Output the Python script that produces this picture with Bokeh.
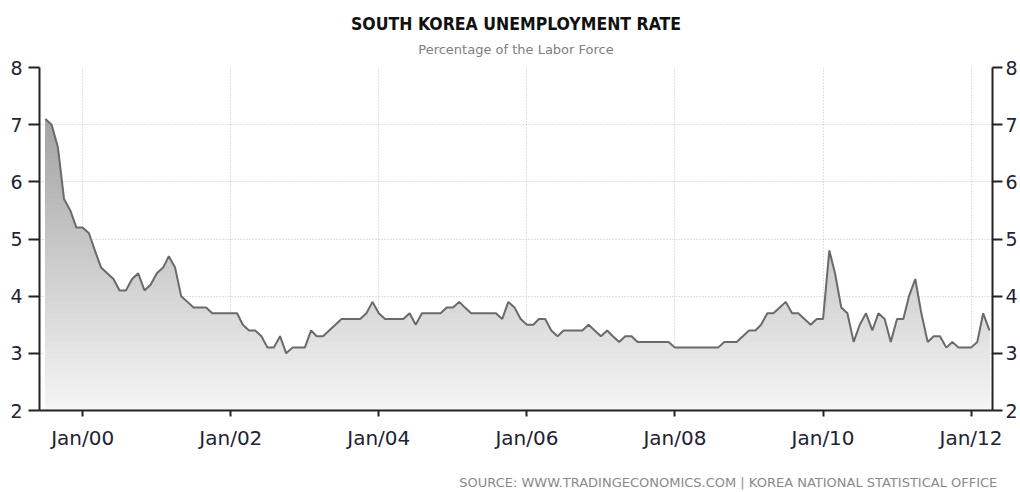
import numpy as np
import pandas as pd
from datetime import datetime
from bokeh.plotting import figure
from bokeh.models import (Range1d, LinearAxis, FixedTicker, DatetimeTickFormatter, Title,
                          CustomJSTickFormatter)
from bokeh.embed import file_html
from bokeh.resources import INLINE
import json

TITLE = "SOUTH KOREA UNEMPLOYMENT RATE"
SUBTITLE = "Percentage of the Labor Force"
SOURCE = "SOURCE: WWW.TRADINGECONOMICS.COM | KOREA NATIONAL STATISTICAL OFFICE"

start_month = "1999-07"
rate_1999 = [7.1, 7.0, 6.6, 5.7, 5.5, 5.2]
rate_2000 = [5.2, 5.1, 4.8, 4.5, 4.4, 4.3, 4.1, 4.1, 4.3, 4.4, 4.1, 4.2]
rate_2001 = [4.4, 4.5, 4.7, 4.5, 4.0, 3.9, 3.8, 3.8, 3.8, 3.7, 3.7, 3.7]
rate_2002 = [3.7, 3.7, 3.5, 3.4, 3.4, 3.3, 3.1, 3.1, 3.3, 3.0, 3.1, 3.1]
rate_2003 = [3.1, 3.4, 3.3, 3.3, 3.4, 3.5, 3.6, 3.6, 3.6, 3.6, 3.7, 3.9]
rate_2004 = [3.7, 3.6, 3.6, 3.6, 3.6, 3.7, 3.5, 3.7, 3.7, 3.7, 3.7, 3.8]
rate_2005 = [3.8, 3.9, 3.8, 3.7, 3.7, 3.7, 3.7, 3.7, 3.6, 3.9, 3.8, 3.6]
rate_2006 = [3.5, 3.5, 3.6, 3.6, 3.4, 3.3, 3.4, 3.4, 3.4, 3.4, 3.5, 3.4]
rate_2007 = [3.3, 3.4, 3.3, 3.2, 3.3, 3.3, 3.2, 3.2, 3.2, 3.2, 3.2, 3.2]
rate_2008 = [3.1, 3.1, 3.1, 3.1, 3.1, 3.1, 3.1, 3.1, 3.2, 3.2, 3.2, 3.3]
rate_2009 = [3.4, 3.4, 3.5, 3.7, 3.7, 3.8, 3.9, 3.7, 3.7, 3.6, 3.5, 3.6]
rate_2010 = [3.6, 4.8, 4.4, 3.8, 3.7, 3.2, 3.5, 3.7, 3.4, 3.7, 3.6, 3.2]
rate_2011 = [3.6, 3.6, 4.0, 4.3, 3.7, 3.2, 3.3, 3.3, 3.1, 3.2, 3.1, 3.1]
rate_2012 = [3.1, 3.2, 3.7, 3.4]

rate = (rate_1999 + rate_2000 + rate_2001 + rate_2002 + rate_2003 + rate_2004 +
        rate_2005 + rate_2006 + rate_2007 + rate_2008 + rate_2009 + rate_2010 +
        rate_2011 + rate_2012)
months = pd.date_range(start_month, periods=len(rate), freq="MS")

y_ticks = [2, 3, 4, 5, 6, 7, 8]
x_tick_years = [2000, 2002, 2004, 2006, 2008, 2010, 2012]


def to_ms(ts):
    return float((pd.Timestamp(ts) - pd.Timestamp("1970-01-01")) // pd.Timedelta(milliseconds=1))


x_ticks = [to_ms(f"{y}-01-01") for y in x_tick_years]
x_start, x_end = datetime(1999, 6, 2), datetime(2012, 4, 16)

LABEL_FONT = "DejaVu Sans"
LABEL_COLOR = "#222233"

W, H = 1020, 492
BL, BR, BT, BB = 39, 25, 67, 82
FW = W - BL - BR

p = figure(width=W, height=H, output_backend="svg", toolbar_location=None,
           x_axis_type="datetime",
           x_range=Range1d(x_start, x_end),
           y_range=Range1d(2, 8),
           min_border_left=BL, min_border_right=BR, min_border_top=BT, min_border_bottom=BB)
p.outline_line_color = None
p.background_fill_color = "white"
p.border_fill_color = "white"

# gradient fill under the curve (darker high, lighter low)
rate_arr = np.array(rate)
levels = np.round(np.arange(7.2, 1.95, -0.1), 1)
for lv in levels:
    g = int(round(min(250, 163 + (7.2 - lv) * 16)))
    p.varea(x=months, y1=2, y2=np.minimum(rate_arr, lv), fill_color=(g, g, g), fill_alpha=1.0)

p.line(months, rate, line_color="#6a6a6a", line_width=2)

# grids
for grid in (p.xgrid[0], p.ygrid[0]):
    grid.grid_line_color = "#c4c4c4"
    grid.grid_line_dash = "1 2"
    grid.grid_line_width = 1
p.xgrid[0].ticker = FixedTicker(ticks=x_ticks)
p.ygrid[0].ticker = FixedTicker(ticks=y_ticks)


def style_axis(ax, tick_out, standoff, size):
    ax.axis_line_color = "#222222"
    ax.axis_line_width = 2
    ax.major_tick_line_color = "#222222"
    ax.major_tick_line_width = 2
    ax.major_tick_in = 0
    ax.major_tick_out = tick_out
    ax.minor_tick_line_color = None
    ax.major_label_text_font = LABEL_FONT
    ax.major_label_text_font_size = size
    ax.major_label_text_color = LABEL_COLOR
    ax.major_label_standoff = standoff


def text_axis(text, tick, standoff, font, size, color):
    ax = LinearAxis(ticker=FixedTicker(ticks=[tick]),
                    formatter=CustomJSTickFormatter(code="return " + json.dumps(text) + ";"))
    ax.axis_line_color = None
    ax.major_tick_line_color = None
    ax.minor_tick_line_color = None
    ax.major_tick_in = 0
    ax.major_tick_out = 0
    ax.major_label_standoff = standoff
    ax.major_label_text_font = font
    ax.major_label_text_font_size = size
    ax.major_label_text_color = color
    return ax


# left axis
yl = p.yaxis[0]
yl.ticker = FixedTicker(ticks=y_ticks)
style_axis(yl, 11, 6, "19px")

# right axis
yr = LinearAxis(ticker=FixedTicker(ticks=y_ticks))
style_axis(yr, 10, 3, "19px")
p.add_layout(yr, "right")

# bottom axis
xa = p.xaxis[0]
xa.ticker = FixedTicker(ticks=x_ticks)
fmt = "%b/%y"
xa.formatter = DatetimeTickFormatter(years=fmt, months=fmt, days=fmt, hours=fmt, hourmin=fmt,
                                     minutes=fmt, minsec=fmt, seconds=fmt, milliseconds=fmt,
                                     microseconds=fmt)
style_axis(xa, 6, 9, "20px")

# subtitle (just above the frame) and title
x0_ms, x1_ms = to_ms(x_start), to_ms(x_end)
x_mid = (x0_ms + x1_ms) / 2
p.add_layout(text_axis(SUBTITLE, x_mid, 11, "DejaVu Sans", "13px", "#808080"), "above")
p.add_layout(Title(text=TITLE, align="center", vertical_align="bottom",
                   text_font="DejaVu Sans Condensed", text_font_style="bold",
                   text_font_size="17.5px", text_color="#111111", standoff=10), "above")

# source line below the date axis, toward the right
src_center_px = 730
x_src = x0_ms + (src_center_px - BL) / FW * (x1_ms - x0_ms)
p.add_layout(text_axis(SOURCE, x_src, 22, "DejaVu Sans", "13px", "#8a8a8a"), "below")

open("out.html", "w").write(file_html(p, INLINE))
